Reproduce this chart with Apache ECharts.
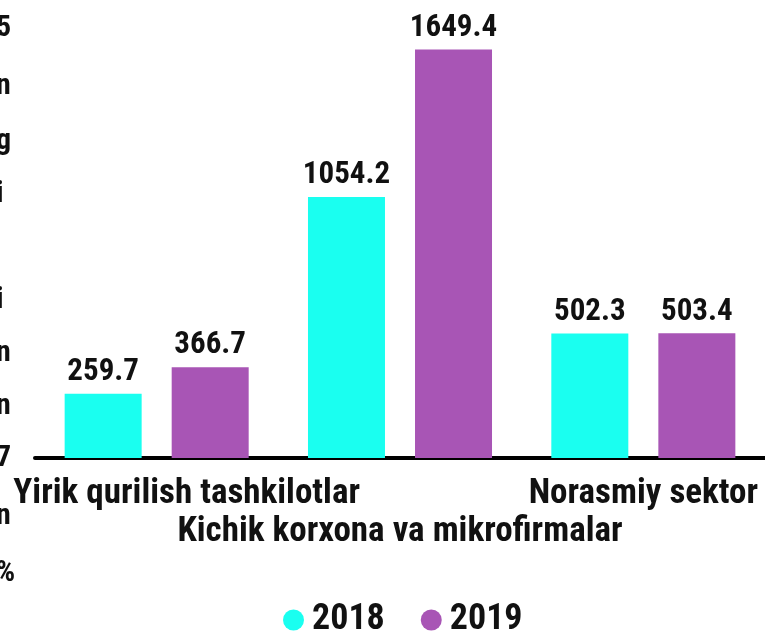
<!DOCTYPE html>
<html>
<head>
<meta charset="utf-8">
<script src="https://cdn.jsdelivr.net/npm/echarts@6/dist/echarts.min.js"></script>
<style>
  html, body { margin: 0; padding: 0; background: #fff; }
  #chart { width: 765px; height: 635px; }
</style>
</head>
<body>
<div id="chart"></div>
<script>
// data
var categories = ['Yirik qurilish tashkilotlar', 'Kichik korxona va mikrofirmalar', 'Norasmiy sektor'];
var values2018 = [259.7, 1054.2, 502.3];
var values2019 = [366.7, 1649.4, 503.4];
var seriesNames = ['2018', '2019'];
// cut-off text at the left edge of the picture
var edgeChars = ['5', 'n', 'g', 'i', 'i', 'n', 'n', '7', 'n', '%'];
var edgeRows = [30, 88, 143, 196, 302, 355, 408, 460, 518, 575];

var FONT = '"Liberation Sans Narrow", "Arial Narrow", "Roboto Condensed", sans-serif';
var colors = ['#1afff0', '#a855b5'];

var chart = echarts.init(document.getElementById('chart'), null, { renderer: 'canvas' });

var labelStyle = {
  show: true,
  position: 'top',
  distance: 6,
  color: '#111',
  fontFamily: FONT,
  fontWeight: 'bold',
  fontSize: 31
};

var edgeTexts = edgeChars.map(function (c, i) {
  return {
    type: 'text',
    left: -4,
    top: edgeRows[i] - 17,
    style: { text: c, fill: '#111', font: 'bold 30px ' + FONT }
  };
});

chart.setOption({
  animation: false,
  color: colors,
  grid: { left: 35, right: 0, top: 37, bottom: 177, containLabel: false, outerBoundsMode: 'none' },
  legend: {
    bottom: -8,
    left: 278,
    icon: 'circle',
    itemWidth: 21,
    itemHeight: 21,
    itemGap: 36,
    textStyle: { color: '#111', fontFamily: FONT, fontWeight: 'bold', fontSize: 36, padding: [0, 0, 0, 3] },
    data: seriesNames
  },
  xAxis: {
    type: 'category',
    data: categories,
    axisLine: { lineStyle: { color: '#000', width: 4 } },
    axisTick: { alignWithLabel: true, length: 14, lineStyle: { color: '#000', width: 1 } },
    axisLabel: {
      interval: 0,
      hideOverlap: false,
      color: '#111',
      fontFamily: FONT,
      fontWeight: 'bold',
      fontSize: 35,
      margin: 17,
      formatter: function (v, i) {
        if (i === 0) return '{a|' + v + '}';
        if (i === 1) return '\n' + v;
        return v;
      },
      rich: {
        a: { padding: [0, 0, 0, 60], fontFamily: FONT, fontWeight: 'bold', fontSize: 35, color: '#111' }
      },
      lineHeight: 38
    }
  },
  yAxis: {
    type: 'value',
    min: 0,
    max: 1700,
    show: false,
    splitLine: { show: false }
  },
  series: [
    {
      name: seriesNames[0],
      type: 'bar',
      data: values2018,
      barWidth: 77,
      barGap: '39%',
      label: labelStyle
    },
    {
      name: seriesNames[1],
      type: 'bar',
      data: values2019,
      barWidth: 77,
      barGap: '39%',
      label: labelStyle
    }
  ],
  graphic: edgeTexts
});
</script>
</body>
</html>
